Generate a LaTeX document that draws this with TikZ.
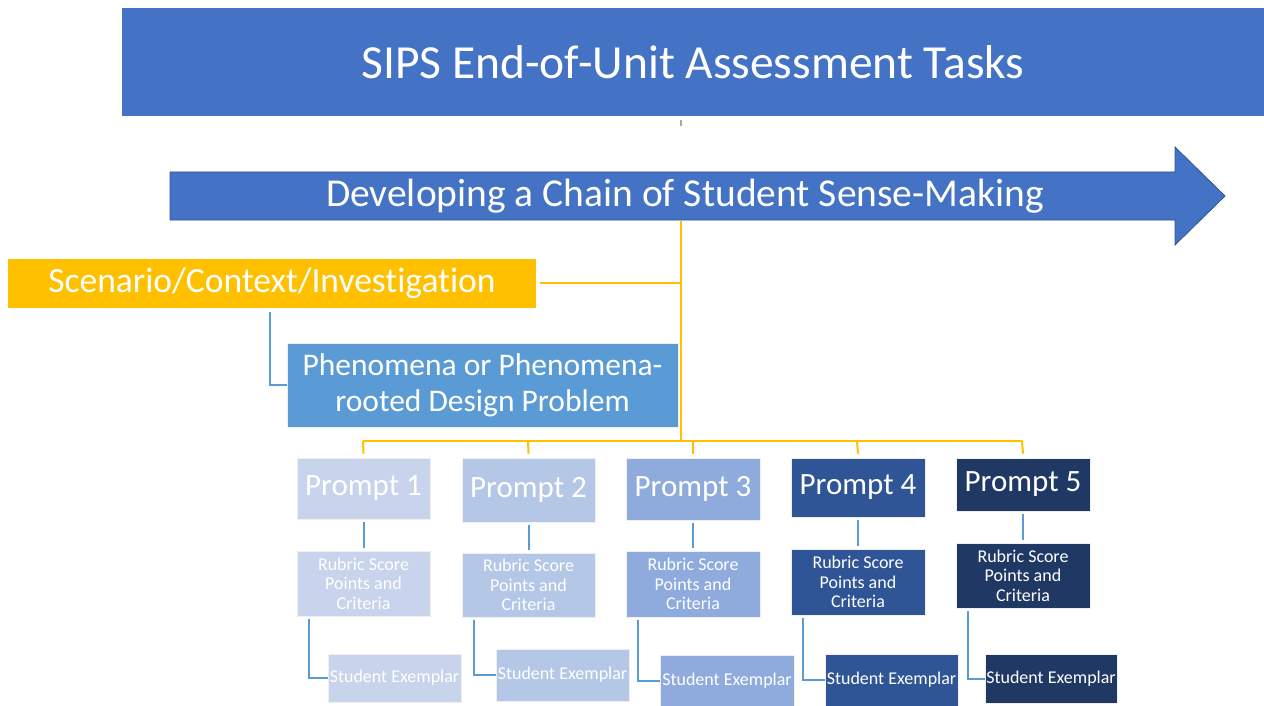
\documentclass[tikz,border=0pt]{standalone}
\usepackage{fontspec}
\setmainfont{Carlito}[RawFeature=-liga]
\definecolor{titleblue}{HTML}{4472C4}
\definecolor{edgeblue}{HTML}{2F5597}
\definecolor{gold}{HTML}{FFC000}
\definecolor{midblue}{HTML}{5B9BD5}
\definecolor{pA}{HTML}{C7D4EC}
\definecolor{pB}{HTML}{B4C7E7}
\definecolor{pC}{HTML}{8FAADC}
\definecolor{pD}{HTML}{2F5597}
\definecolor{pE}{HTML}{203864}
\begin{document}
\begin{tikzpicture}[x=1pt,y=-1pt,
  box/.style={rectangle, inner sep=0pt, text=white, align=center, draw=white!88!gray, line width=0.8pt},
  goldline/.style={draw=gold, line width=2pt},
  blueline/.style={draw=midblue, line width=2pt},
  prompttxt/.style={font=\fontsize{31}{36}\selectfont},
  smalltxt/.style={font=\fontsize{18}{19.5}\selectfont}]
\useasboundingbox (0,0) rectangle (1264,706);

% title
\node[box, draw=none, fill=titleblue, minimum width=1142pt, minimum height=108pt,
      font=\fontsize{47.5}{54}\selectfont] (title) at (693,62) {SIPS End-of-Unit Assessment Tasks};
\coordinate (tickA) at (681,120);
\coordinate (tickB) at (681,126);
\draw[gray!70, line width=1.2pt] (tickA) -- (tickB);

% arrow
\filldraw[fill=titleblue, draw=edgeblue, line width=0.8pt]
  (170,172) -- (1175,172) -- (1175,147) -- (1225,196) -- (1175,245) -- (1175,220) -- (170,220) -- cycle;
\node[text=white, font=\fontsize{39.5}{45}\selectfont] (arrowtxt) at (685,196) {Developing a Chain of Student Sense-Making};
\coordinate (arrowbot) at (681,221);
\coordinate (hub) at (681,441);
\coordinate (scenjoin) at (681,283);

% scenario
\node[box, draw=none, fill=gold, minimum width=528pt, minimum height=49pt,
      font=\fontsize{35.5}{40}\selectfont] (scen) at (272,283.5) {Scenario/Context/Investigation};
\coordinate (scenR) at (540,283);
\draw[goldline] (arrowbot) -- (hub);
\draw[goldline] (scenR) -- (scenjoin);

% phenomena
\node[box, fill=midblue, minimum width=391pt, minimum height=84pt,
      font=\fontsize{31.5}{36}\selectfont] (phen) at (482.5,385) {Phenomena or Phenomena-\\rooted Design Problem};
\coordinate (scenB) at (270,312);
\draw[blueline] (scenB) |- (phen.west);

% prompts
\node[box, fill=pA, prompttxt, minimum width=133pt, minimum height=61pt] (p1) at (363.5,488.5) {Prompt 1};
\node[box, fill=pB, prompttxt, minimum width=133pt, minimum height=64pt] (p2) at (528.5,490) {Prompt 2};
\node[box, fill=pC, prompttxt, minimum width=134pt, minimum height=62pt] (p3) at (693,489) {Prompt 3};
\node[box, fill=pD, prompttxt, minimum width=134pt, minimum height=59pt] (p4) at (858,487.5) {Prompt 4};
\node[box, fill=pE, prompttxt, minimum width=134pt, minimum height=53pt] (p5) at (1023,484.5) {Prompt 5};

% gold bus
\coordinate (busL) at (363,441);
\coordinate (busR) at (1022,441);
\draw[goldline] (busL) -- (busR);
\foreach \n/\x in {p1/363, p2/528, p3/693, p4/857, p5/1022}
  \draw[goldline] (\x,441) -- ([yshift=4pt]\n.north);

% rubrics
\node[box, fill=pA, smalltxt, minimum width=133pt, minimum height=65pt] (r1) at (363.5,583.5) {Rubric Score\\Points and\\Criteria};
\node[box, fill=pB, smalltxt, minimum width=133pt, minimum height=64pt] (r2) at (528.5,585) {Rubric Score\\Points and\\Criteria};
\node[box, fill=pC, smalltxt, minimum width=134pt, minimum height=66pt] (r3) at (693,584) {Rubric Score\\Points and\\Criteria};
\node[box, fill=pD, smalltxt, minimum width=134pt, minimum height=66pt] (r4) at (858,582) {Rubric Score\\Points and\\Criteria};
\node[box, fill=pE, smalltxt, minimum width=134pt, minimum height=65pt] (r5) at (1023,575.5) {Rubric Score\\Points and\\Criteria};

\foreach \i in {1,...,5}
  \draw[blueline] ([yshift=-3pt]p\i.south) -- ([yshift=3pt]r\i.north);

% exemplars
\node[box, fill=pA, smalltxt, minimum width=133pt, minimum height=48pt] (s1) at (394.5,678) {Student Exemplar};
\node[box, fill=pB, smalltxt, minimum width=133pt, minimum height=52pt] (s2) at (562.5,675) {Student Exemplar};
\node[box, fill=pC, smalltxt, minimum width=134pt, minimum height=51pt] (s3) at (727,680.5) {Student Exemplar};
\node[box, fill=pD, smalltxt, minimum width=133pt, minimum height=52pt] (s4) at (891.5,680) {Student Exemplar};
\node[box, fill=pE, smalltxt, minimum width=132pt, minimum height=49pt] (s5) at (1051,678.5) {Student Exemplar};

\coordinate (c1) at (309,619);
\coordinate (c2) at (474,620);
\coordinate (c3) at (638,620);
\coordinate (c4) at (803,618);
\coordinate (c5) at (968,611);
\foreach \i in {1,...,5}
  \draw[blueline] (c\i) |- (s\i.west);
\end{tikzpicture}
\end{document}
